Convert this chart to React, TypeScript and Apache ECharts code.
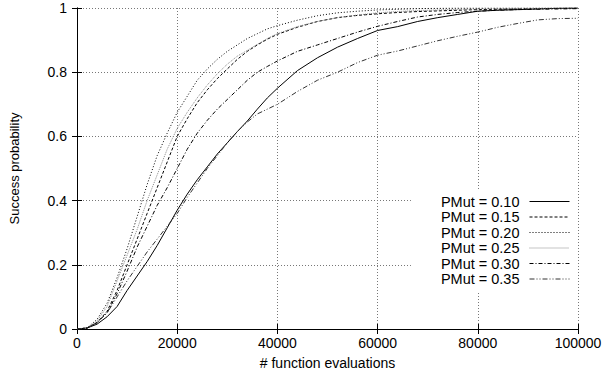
import React, { useEffect, useRef } from "react";
import * as echarts from "echarts";

const evaluations = [
  0, 2000, 4000, 6000, 8000, 10000, 12000, 14000, 16000, 18000, 20000, 22000,
  24000, 26000, 28000, 30000, 32000, 34000, 36000, 38000, 40000, 44000, 48000,
  52000, 56000, 60000, 64000, 68000, 72000, 76000, 80000, 84000, 88000, 92000,
  96000, 100000,
];

const pmut010 = [
  0, 0.003, 0.015, 0.038, 0.07, 0.12, 0.165, 0.21, 0.26, 0.315, 0.37, 0.42,
  0.465, 0.505, 0.545, 0.58, 0.615, 0.648, 0.685, 0.72, 0.75, 0.805, 0.845,
  0.878, 0.905, 0.93, 0.942, 0.958, 0.97, 0.98, 0.99, 0.993, 0.995, 0.997,
  0.999, 1,
];
const pmut015 = [
  0, 0.003, 0.02, 0.055, 0.12, 0.2, 0.28, 0.36, 0.44, 0.52, 0.6, 0.655, 0.705,
  0.745, 0.78, 0.81, 0.84, 0.865, 0.885, 0.903, 0.918, 0.94, 0.958, 0.97,
  0.977, 0.982, 0.986, 0.989, 0.991, 0.993, 0.995, 0.996, 0.997, 0.998, 0.999,
  1,
];
const pmut020 = [
  0, 0.003, 0.03, 0.08, 0.16, 0.25, 0.35, 0.45, 0.54, 0.61, 0.675, 0.725,
  0.775, 0.81, 0.84, 0.865, 0.885, 0.905, 0.92, 0.935, 0.945, 0.962, 0.976,
  0.985, 0.99, 0.994, 0.996, 0.998, 0.999, 1, 1, 1, 1, 1, 1, 1,
];
const pmut025 = [
  0, 0.003, 0.025, 0.07, 0.15, 0.23, 0.31, 0.4, 0.48, 0.56, 0.625, 0.675,
  0.72, 0.76, 0.795, 0.825, 0.85, 0.868, 0.887, 0.905, 0.92, 0.942, 0.958,
  0.97, 0.978, 0.985, 0.989, 0.992, 0.994, 0.996, 0.997, 0.998, 0.999, 0.999,
  1, 1,
];
const pmut030 = [
  0, 0.003, 0.02, 0.05, 0.11, 0.18, 0.255, 0.32, 0.385, 0.44, 0.5, 0.56, 0.61,
  0.65, 0.685, 0.715, 0.745, 0.775, 0.8, 0.818, 0.835, 0.865, 0.885, 0.905,
  0.925, 0.943, 0.958, 0.972, 0.98, 0.986, 0.99, 0.993, 0.995, 0.996, 0.997,
  0.998,
];
const pmut035 = [
  0, 0.003, 0.02, 0.05, 0.1, 0.15, 0.195, 0.24, 0.28, 0.32, 0.36, 0.41, 0.455,
  0.5, 0.54, 0.58, 0.615, 0.645, 0.67, 0.685, 0.7, 0.74, 0.775, 0.8, 0.83,
  0.853, 0.866, 0.882, 0.898, 0.912, 0.925, 0.94, 0.952, 0.963, 0.967, 0.968,
];

const seriesNames = [
  "PMut = 0.10",
  "PMut = 0.15",
  "PMut = 0.20",
  "PMut = 0.25",
  "PMut = 0.30",
  "PMut = 0.35",
];
const seriesValues = [pmut010, pmut015, pmut020, pmut025, pmut030, pmut035];

const xTicks = { min: 0, max: 100000, interval: 20000 };
const yTicks = { min: 0, max: 1, interval: 0.2 };

const lineStyles: any[] = [
  { color: "#000", type: "solid" },
  { color: "#000", type: [3, 2] },
  { color: "#000", type: [1, 2] },
  { color: "#8a8a8a", type: [1, 1] },
  { color: "#000", type: [4, 2, 1, 2] },
  { color: "#333", type: [5, 2, 1, 2, 1, 2] },
];

const FONT = "'Liberation Sans', Arial, Helvetica, sans-serif";

export default function App() {
  const ref = useRef<HTMLDivElement>(null);
  useEffect(() => {
    if (!ref.current) return;
    const chart = echarts.init(ref.current, null, { renderer: "svg" });
    const gridLine = { show: true, lineStyle: { color: "#777", type: [1, 2], width: 1 } };
    const baseAxisLine = { show: true, lineStyle: { color: "#000", width: 1 } };
    const tick = { show: true, inside: true, length: 5, lineStyle: { color: "#000" } };
    chart.setOption({
      animation: false,
      backgroundColor: "#fff",
      textStyle: { fontFamily: FONT },
      grid: { left: 77, right: 28, top: 8, bottom: 43, outerBoundsMode: "none" } as any,
      xAxis: [
        {
          type: "value",
          position: "bottom",
          ...xTicks,
          name: "# function evaluations",
          nameLocation: "middle",
          nameGap: 27,
          nameTextStyle: { fontSize: 14, color: "#000", fontFamily: FONT },
          axisLine: baseAxisLine,
          axisTick: tick,
          axisLabel: {
            fontSize: 14,
            color: "#000",
            margin: 7,
            fontFamily: FONT,
            formatter: (v: number) => String(v),
          },
          splitLine: gridLine,
        },
        {
          type: "value",
          position: "top",
          ...xTicks,
          axisLine: baseAxisLine,
          axisTick: tick,
          axisLabel: { show: false },
          splitLine: { show: false },
        },
      ],
      yAxis: [
        {
          type: "value",
          position: "left",
          ...yTicks,
          name: "Success probability",
          nameLocation: "middle",
          nameGap: 56,
          nameTextStyle: { fontSize: 13, color: "#000", fontFamily: FONT },
          axisLine: baseAxisLine,
          axisTick: tick,
          axisLabel: {
            fontSize: 14,
            color: "#000",
            margin: 10,
            fontFamily: FONT,
            formatter: (v: number) => String(Math.round(v * 10) / 10),
          },
          splitLine: gridLine,
        },
        {
          type: "value",
          position: "right",
          ...yTicks,
          axisLine: baseAxisLine,
          axisTick: tick,
          axisLabel: { show: false },
          splitLine: { show: false },
        },
      ],
      legend: {
        data: seriesNames,
        orient: "vertical",
        right: 30,
        top: 189,
        align: "right",
        itemWidth: 40,
        itemHeight: 10,
        itemGap: 0.5,
        padding: [5, 6, 5, 30],
        backgroundColor: "#fff",
        itemStyle: { opacity: 0 },
        lineStyle: { width: 1 },
        textStyle: { fontSize: 14.5, lineHeight: 13, color: "#000", fontFamily: FONT, padding: [0, 5, 0, 0] },
      },
      series: seriesNames.map((name, s) => ({
        name,
        type: "line",
        symbol: "none",
        showSymbol: false,
        xAxisIndex: 0,
        yAxisIndex: 0,
        lineStyle: { width: 1, ...lineStyles[s] },
        itemStyle: { color: lineStyles[s].color },
        data: evaluations.map((x, i) => [x, seriesValues[s][i]]),
        z: 3,
      })),
    });
    return () => chart.dispose();
  }, []);
  return (
    <div
      ref={ref}
      style={{ position: "absolute", left: 0, top: 0, width: 606, height: 372 }}
    />
  );
}
